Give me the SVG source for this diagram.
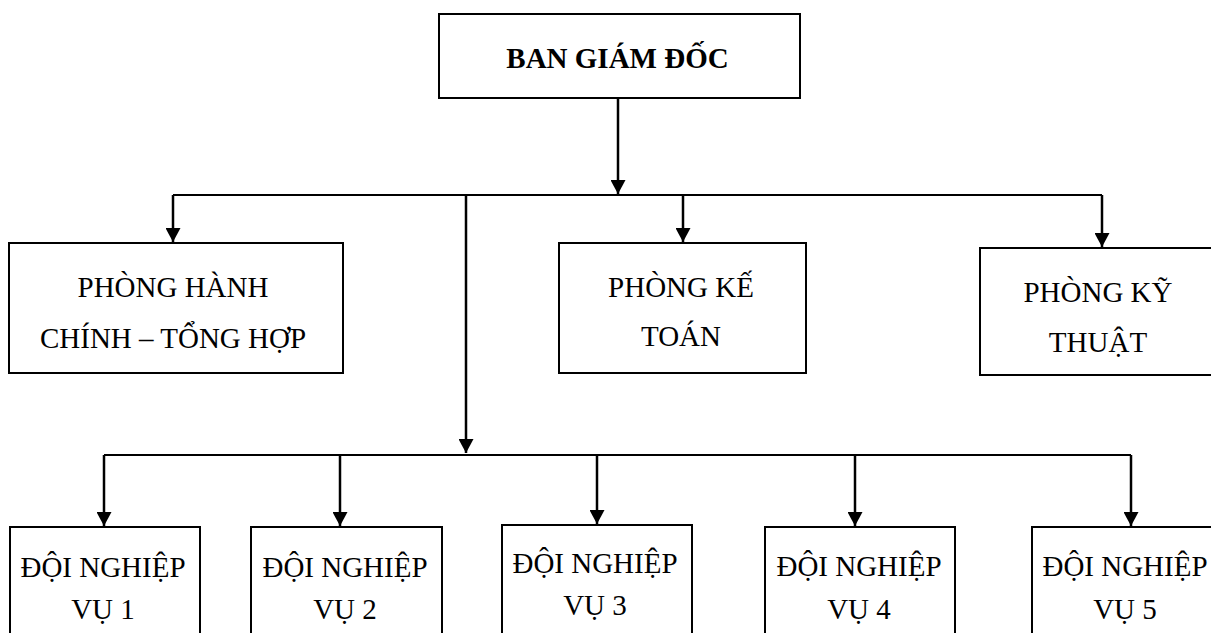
<svg xmlns="http://www.w3.org/2000/svg" width="1211" height="633" viewBox="0 0 1211 633">
<defs>
<marker id="arr" viewBox="0 0 14 15" markerWidth="14" markerHeight="15" refX="14" refY="7.5" orient="auto" markerUnits="userSpaceOnUse">
<path d="M0,0 L14,7.5 L0,15 z" fill="#000"/>
</marker>
<style>
.box{fill:#fff;stroke:#000;stroke-width:2}
.t{font-family:"Liberation Serif","Times New Roman",serif;font-size:29px;fill:#000;text-anchor:middle}
.b{font-weight:bold}
.h{fill:none;stroke:#000;stroke-width:2}
.v{fill:none;stroke:#000;stroke-width:2.5}
.a{fill:none;stroke:#000;stroke-width:2.5;marker-end:url(#arr)}
</style>
</defs>
<rect width="1211" height="633" fill="#fff"/>
<g id="connectors">
<line class="a" x1="618" y1="98" x2="618" y2="194"/>
<line class="h" x1="173" y1="195" x2="1102" y2="195"/>
<line class="a" x1="173" y1="195" x2="173" y2="242"/>
<line class="a" x1="683" y1="195" x2="683" y2="242"/>
<line class="a" x1="1102" y1="195" x2="1102" y2="247"/>
<line class="a" x1="466" y1="195" x2="466" y2="453"/>
<line class="h" x1="104" y1="455" x2="1131" y2="455"/>
<line class="a" x1="104" y1="455" x2="104" y2="526"/>
<line class="a" x1="340" y1="455" x2="340" y2="526"/>
<line class="a" x1="597" y1="455" x2="597" y2="524"/>
<line class="a" x1="855" y1="455" x2="855" y2="526"/>
<line class="a" x1="1131" y1="455" x2="1131" y2="526"/>
</g>
<g id="ban-giam-doc">
<rect class="box" x="439" y="14" width="361" height="84"/>
<text class="t b" x="617.5" y="68">BAN GIÁM ĐỐC</text>
</g>
<g id="phong-hanh-chinh">
<rect class="box" x="9" y="243" width="334" height="130"/>
<text class="t" x="173" y="297">PHÒNG HÀNH</text>
<text class="t" x="173" y="348">CHÍNH – TỔNG HỢP</text>
</g>
<g id="phong-ke-toan">
<rect class="box" x="559" y="243" width="247" height="130"/>
<text class="t" x="681" y="297">PHÒNG KẾ</text>
<text class="t" x="681" y="346">TOÁN</text>
</g>
<g id="phong-ky-thuat">
<rect class="box" x="980" y="248" width="236" height="127"/>
<text class="t" x="1098" y="302">PHÒNG KỸ</text>
<text class="t" x="1098" y="352">THUẬT</text>
</g>
<g id="doi-1">
<rect class="box" x="10" y="527" width="190" height="120"/>
<text class="t" x="103" y="577">ĐỘI NGHIỆP</text>
<text class="t" x="103" y="619">VỤ 1</text>
</g>
<g id="doi-2">
<rect class="box" x="251" y="527" width="191" height="120"/>
<text class="t" x="345" y="577">ĐỘI NGHIỆP</text>
<text class="t" x="345" y="619">VỤ 2</text>
</g>
<g id="doi-3">
<rect class="box" x="502" y="525" width="190" height="120"/>
<text class="t" x="595" y="573">ĐỘI NGHIỆP</text>
<text class="t" x="595" y="615">VỤ 3</text>
</g>
<g id="doi-4">
<rect class="box" x="765" y="527" width="190" height="120"/>
<text class="t" x="859" y="576">ĐỘI NGHIỆP</text>
<text class="t" x="859" y="619">VỤ 4</text>
</g>
<g id="doi-5">
<rect class="box" x="1032" y="527" width="190" height="120"/>
<text class="t" x="1125" y="576">ĐỘI NGHIỆP</text>
<text class="t" x="1125" y="619">VỤ 5</text>
</g>
</svg>
